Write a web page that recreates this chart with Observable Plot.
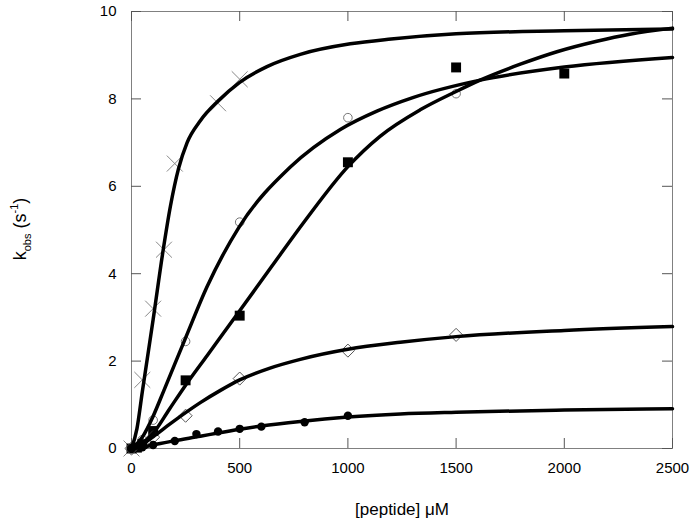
<!DOCTYPE html>
<html>
<head>
<meta charset="utf-8">
<script src="https://cdn.jsdelivr.net/npm/d3@7"></script>
<script src="https://cdn.jsdelivr.net/npm/@observablehq/plot@0.6"></script>
<style>
  body { margin: 0; background: #fff; }
  #chart svg { display: block; }
</style>
</head>
<body>
<div id="chart"></div>
<script>
// Axis ticks
const xTicks = [0, 500, 1000, 1500, 2000, 2500];
const yTicks = [0, 2, 4, 6, 8, 10];

const crossX = [0, 50, 100, 150, 200, 400, 500];
const crossY = [0, 1.57, 3.2, 4.55, 6.52, 7.9, 8.45];

const openCircX = [0, 50, 100, 250, 500, 1000, 1500];
const openCircY = [0, 0.2, 0.65, 2.45, 5.18, 7.57, 8.12];

const squareX = [0, 25, 50, 100, 250, 500, 1000, 1500, 2000];
const squareY = [0, 0.02, 0.1, 0.4, 1.56, 3.04, 6.55, 8.72, 8.58];

const diamondX = [0, 50, 100, 250, 500, 1000, 1500];
const diamondY = [0, 0.1, 0.26, 0.75, 1.6, 2.24, 2.6];

const filledX = [0, 50, 100, 200, 300, 400, 500, 600, 800, 1000];
const filledY = [0, 0.03, 0.08, 0.17, 0.33, 0.39, 0.45, 0.5, 0.6, 0.75];

// Fitted curves
const crossFitX = [0, 25, 50, 100, 146, 180, 217, 257, 318, 400, 500, 626, 780, 1011, 1200, 1500, 2000, 2500];
const crossFitY = [0, 0.45, 1.3, 2.95, 4.53, 5.55, 6.4, 7.0, 7.5, 7.95, 8.38, 8.74, 9.02, 9.26, 9.37, 9.49, 9.56, 9.6];

const circFitX = [0, 50, 100, 149, 249, 349, 495, 734, 965, 1134, 1300, 1611, 2000, 2500];
const circFitY = [0, 0.26, 0.74, 1.32, 2.52, 3.7, 5.05, 6.44, 7.3, 7.72, 8.03, 8.43, 8.73, 8.95];

const squareFitX = [0, 50, 100, 175, 250, 350, 500, 650, 800, 1000, 1150, 1334, 1500, 1611, 1800, 1966, 2150, 2303, 2500];
const squareFitY = [0, 0.12, 0.35, 0.9, 1.45, 2.13, 3.15, 4.18, 5.2, 6.45, 7.15, 7.75, 8.17, 8.43, 8.8, 9.08, 9.32, 9.48, 9.62];

const diamondFitX = [0, 50, 100, 175, 250, 318, 411, 500, 640, 780, 1000, 1242, 1500, 2000, 2500];
const diamondFitY = [0, 0.1, 0.27, 0.55, 0.82, 1.05, 1.33, 1.57, 1.84, 2.04, 2.27, 2.43, 2.56, 2.7, 2.79];

const filledFitX = [0, 50, 100, 200, 318, 400, 500, 600, 780, 1000, 1242, 1500, 2000, 2500];
const filledFitY = [0, 0.03, 0.08, 0.18, 0.28, 0.355, 0.44, 0.515, 0.62, 0.72, 0.79, 0.83, 0.88, 0.91];

const pts = (xs, ys) => xs.map((x, i) => ({x, y: ys[i]}));
const fmt = d => String(d);

const chart = Plot.plot({
  width: 690,
  height: 526,
  marginLeft: 131,
  marginRight: 18,
  marginTop: 11,
  marginBottom: 78,
  style: {fontFamily: "'Liberation Sans', Arial, sans-serif", fontSize: "15px", background: "#fff", color: "#000"},
  x: {domain: [0, 2500]},
  y: {domain: [0, 10]},
  marks: [
    Plot.frame({stroke: "#808080"}),
    Plot.tickX(xTicks, {x: d => d, insetTop: 427, stroke: "#555"}),
    Plot.tickX(xTicks, {x: d => d, insetBottom: 427, stroke: "#555"}),
    Plot.tickY(yTicks, {y: d => d, insetRight: 531, stroke: "#555"}),
    Plot.tickY(yTicks, {y: d => d, insetLeft: 531, stroke: "#555"}),
    Plot.axisX(xTicks, {tickSize: 0, tickPadding: 14, label: null, fontSize: 15, tickFormat: fmt}),
    Plot.axisY(yTicks, {tickSize: 0, tickPadding: 15, label: null, fontSize: 15, tickFormat: fmt}),

    Plot.dot(pts(crossX, crossY), {x: "x", y: "y", symbol: "times", r: 7.3, stroke: "#888", strokeWidth: 1}),
    Plot.dot(pts(openCircX, openCircY), {x: "x", y: "y", symbol: "circle", r: 4.3, stroke: "#777", strokeWidth: 1, fill: "none"}),
    Plot.dot(pts(squareX, squareY), {x: "x", y: "y", symbol: "square", r: 5.6, fill: "#000", stroke: "none"}),
    Plot.dot(pts(diamondX, diamondY), {x: "x", y: "y", symbol: "diamond2", r: 5.9, stroke: "#555", strokeWidth: 1, fill: "none"}),
    Plot.dot(pts(filledX, filledY), {x: "x", y: "y", symbol: "circle", r: 4.2, fill: "#000", stroke: "none"}),

    Plot.line(pts(crossFitX, crossFitY), {x: "x", y: "y", stroke: "#000", strokeWidth: 3.5, curve: "monotone-x"}),
    Plot.line(pts(circFitX, circFitY), {x: "x", y: "y", stroke: "#000", strokeWidth: 3.5, curve: "monotone-x"}),
    Plot.line(pts(squareFitX, squareFitY), {x: "x", y: "y", stroke: "#000", strokeWidth: 3.5, curve: "monotone-x"}),
    Plot.line(pts(diamondFitX, diamondFitY), {x: "x", y: "y", stroke: "#000", strokeWidth: 3.5, curve: "monotone-x"}),
    Plot.line(pts(filledFitX, filledFitY), {x: "x", y: "y", stroke: "#000", strokeWidth: 3.5, curve: "monotone-x"}),

    Plot.text(["[peptide] \u03BCM"], {frameAnchor: "bottom", dy: 66, fontSize: 17, fill: "#000"})
  ]
});

document.getElementById("chart").appendChild(chart);

// Y-axis title with subscript and superscript
const svg = d3.select(chart);
const t = svg.append("text")
  .attr("transform", "translate(26,229) rotate(-90)")
  .attr("text-anchor", "middle")
  .attr("font-family", "'Liberation Sans', Arial, sans-serif")
  .attr("font-size", 18)
  .attr("fill", "#000");
t.append("tspan").text("k");
t.append("tspan").attr("font-size", 11).attr("dy", 5).text("obs");
t.append("tspan").attr("dy", -5).text(" (s");
t.append("tspan").attr("font-size", 11).attr("dy", -8).text("-1");
t.append("tspan").attr("dy", 8).text(")");
</script>
</body>
</html>
